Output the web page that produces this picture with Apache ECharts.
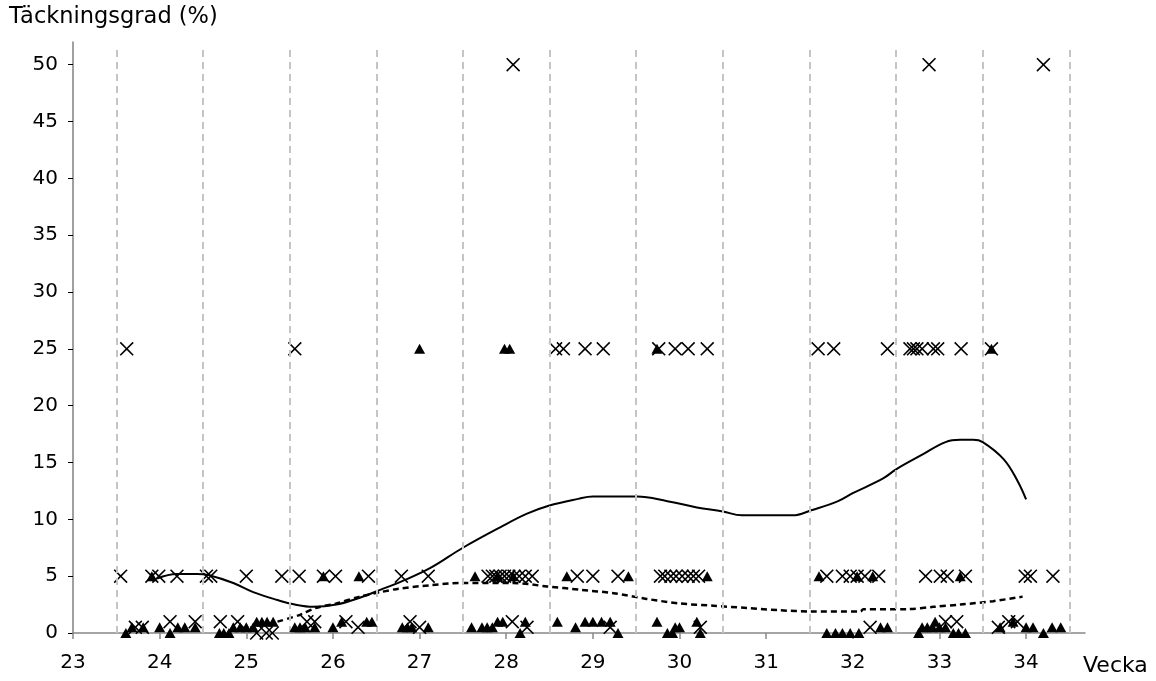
<!DOCTYPE html>
<html><head><meta charset="utf-8">
<script src="https://cdn.jsdelivr.net/npm/echarts@6/dist/echarts.min.js"></script>
<style>html,body{margin:0;padding:0;background:#fff}#c{width:1156px;height:681px}</style>
</head><body><div id="c"></div>
<script>
// ---- data ----
const xTicks = [23,24,25,26,27,28,29,30,31,32,33,34];
const yTicks = [0,5,10,15,20,25,30,35,40,45,50];
const weekBounds = [23.5,24.5,25.5,26.5,27.5,28.5,29.5,30.5,31.5,32.5,33.5,34.5];

// crosses, grouped by value level
const cross50 = [28.08, 32.88, 34.2];
const cross25 = [23.62, 25.56, 28.57, 28.66, 28.91, 29.12, 29.76, 29.95, 30.10, 30.32, 31.60, 31.78, 32.40, 32.66, 32.70, 32.74, 32.80, 32.93, 32.98, 33.25, 33.60];
const cross5 = [23.55, 23.91, 23.99, 24.20, 24.54, 24.59, 25.0, 25.41, 25.61, 25.89, 26.03, 26.41, 26.79, 27.10, 27.79, 27.84, 27.88, 27.93, 27.98, 28.03, 28.09, 28.15, 28.22, 28.30, 28.82, 29.0, 29.29, 29.78, 29.83, 29.90, 29.96, 30.03, 30.10, 30.16, 30.22, 31.70, 31.88, 31.97, 32.05, 32.14, 32.30, 32.84, 33.01, 33.09, 33.30, 33.99, 34.05, 34.31];
const cross1 = [24.12, 24.41, 24.70, 24.90, 25.70, 25.79, 26.15, 26.89, 28.07, 33.07, 33.20, 33.80, 33.90];
const cross05 = [23.72, 23.80, 26.29, 27.0, 28.24, 29.2, 30.24, 32.2, 33.68];
const cross0 = [25.12, 25.23, 25.30];

// triangles, grouped by value level
const tri25 = [27.0, 27.98, 28.04, 29.74, 33.60];
const tri5 = [23.91, 25.89, 26.30, 27.64, 27.90, 28.08, 28.70, 29.41, 30.32, 31.61, 32.05, 32.23, 33.24];
const tri1 = [25.12, 25.18, 25.24, 25.31, 26.10, 26.39, 26.45, 27.90, 27.96, 28.22, 28.59, 28.91, 29.0, 29.1, 29.2, 29.74, 30.2, 32.95, 33.85];
const tri05 = [23.68, 23.81, 24.0, 24.21, 24.29, 24.41, 24.85, 24.93, 25.0, 25.08, 25.56, 25.62, 25.68, 25.79, 26.0, 26.8, 26.86, 26.91, 27.1, 27.6, 27.72, 27.78, 27.84, 28.8, 29.95, 30.0, 32.32, 32.4, 32.8, 32.86, 32.92, 33.0, 33.07, 33.7, 34.0, 34.08, 34.3, 34.4];
const tri0 = [23.61, 24.12, 24.69, 24.74, 24.80, 28.16, 29.29, 29.86, 29.92, 30.24, 31.7, 31.8, 31.88, 31.97, 32.07, 32.76, 33.16, 33.22, 33.3, 34.2];

// solid trend line
const solidX = [23.97, 24.2, 24.43, 24.56, 24.85, 25.08, 25.36, 25.56, 25.77, 26.04, 26.31, 26.58, 26.78, 27.12, 27.5, 27.93, 28.24, 28.49, 28.83, 29.0, 29.51, 29.86, 30.2, 30.5, 30.72, 31.31, 31.52, 31.83, 32.0, 32.35, 32.5, 32.78, 33.07, 33.24, 33.39, 33.5, 33.74, 33.9, 34.0];
const solidY = [4.8, 5.2, 5.2, 5.1, 4.4, 3.6, 2.9, 2.5, 2.3, 2.5, 3.1, 3.9, 4.5, 5.7, 7.5, 9.3, 10.5, 11.2, 11.8, 12.0, 12.0, 11.6, 11.05, 10.7, 10.35, 10.35, 10.8, 11.6, 12.3, 13.6, 14.4, 15.6, 16.8, 17.0, 17.0, 16.8, 15.3, 13.4, 11.75];

// dashed trend line
const dashX = [25.36, 25.62, 25.8, 26.04, 26.31, 26.55, 26.76, 27.12, 27.47, 28.08, 28.47, 28.86, 29.24, 29.62, 30.0, 30.39, 30.78, 31.16, 31.51, 32.09, 32.12, 32.63, 32.93, 33.24, 33.62, 33.96];
const dashY = [1.0, 1.6, 2.2, 2.6, 3.2, 3.6, 3.9, 4.2, 4.4, 4.4, 4.1, 3.8, 3.5, 3.0, 2.6, 2.4, 2.2, 2.0, 1.9, 1.9, 2.1, 2.1, 2.3, 2.5, 2.8, 3.2];

// ---- build ----
function lvl(arr, v){ return arr.map(x => [x, v]); }
const crossData = [].concat(lvl(cross50,50), lvl(cross25,25), lvl(cross5,5), lvl(cross1,1), lvl(cross05,0.5), lvl(cross0,0));
const triData = [].concat(lvl(tri25,25), lvl(tri5,5), lvl(tri1,1), lvl(tri05,0.5), lvl(tri0,0));
const zip = (a,b) => a.map((x,i)=>[x,b[i]]);

const crossPath = 'path://M0,0.8 L0.8,0 L5,4.2 L9.2,0 L10,0.8 L5.8,5 L10,9.2 L9.2,10 L5,5.8 L0.8,10 L0,9.2 L4.2,5 Z';
const FONT = 'DejaVu Sans, Verdana, sans-serif';

const chart = echarts.init(document.getElementById('c'), null, {renderer:'canvas'});
chart.setOption({
  animation: false,
  backgroundColor: '#fff',
  grid: {left: 73, right: 71, top: 42, bottom: 48},
  xAxis: {
    type: 'value', min: 23, max: 34.68,
    axisLine: {lineStyle: {color: '#888', width: 1.5}},
    axisTick: {show: true, length: 6, customValues: xTicks, lineStyle: {color: '#888', width: 1.5}},
    axisLabel: {customValues: xTicks, fontSize: 20, color: '#000', fontFamily: FONT, margin: 20},
    splitLine: {show: false}
  },
  yAxis: {
    type: 'value', min: 0, max: 52,
    axisLine: {show: true, lineStyle: {color: '#808080', width: 1.5}},
    axisTick: {show: true, length: 5, customValues: yTicks, lineStyle: {color: '#000', width: 1}},
    axisLabel: {customValues: yTicks, fontSize: 20, color: '#000', fontFamily: FONT, margin: 15},
    splitLine: {show: false}
  },
  graphic: [
    {type: 'text', left: 9, top: 6, style: {text: 'Täckningsgrad (%)', font: '22.5px ' + FONT, fill: '#000'}},
    {type: 'text', left: 1083, top: 655, style: {text: 'Vecka', font: '22px ' + FONT, fill: '#000'}}
  ],
  series: [
    {
      type: 'line', data: [], z: 1, silent: true,
      markLine: {
        silent: true, symbol: ['none','none'], label: {show: false},
        lineStyle: {color: '#c4c4c4', type: [7,5], width: 2},
        data: weekBounds.map(v => [{coord: [v, 0]}, {coord: [v, 51.5]}])
      }
    },
    {
      type: 'line', data: zip(solidX, solidY), smooth: 0.4, showSymbol: false, z: 3,
      lineStyle: {color: '#000', width: 2}
    },
    {
      type: 'line', data: zip(dashX, dashY), smooth: 0.3, showSymbol: false, z: 3,
      lineStyle: {color: '#000', width: 2.5, type: [6,4]}
    },
    {
      type: 'scatter', data: crossData, symbol: crossPath, symbolSize: 14, z: 4,
      itemStyle: {color: '#000', opacity: 1}
    },
    {
      type: 'scatter', data: triData, symbol: 'triangle', symbolSize: [11, 10], z: 5,
      itemStyle: {color: '#000', opacity: 1}
    }
  ]
});
</script></body></html>
